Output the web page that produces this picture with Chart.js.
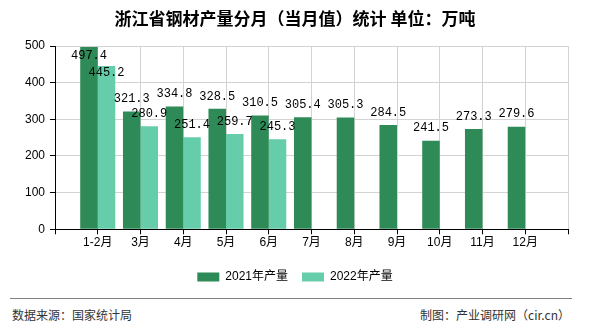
<!DOCTYPE html>
<html>
<head>
<meta charset="utf-8">
<script src="https://cdn.jsdelivr.net/npm/chart.js@4/dist/chart.umd.min.js"></script>
<style>
  body { margin: 0; background: #fff; font-family: "Noto Sans CJK SC", "Liberation Sans", sans-serif; }
  #page { position: relative; width: 590px; height: 330px; overflow: hidden; }
  #wrap { position: absolute; left: 0; top: 0; width: 590px; height: 296px; }
  #title { position: absolute; left: 0; top: 9px; width: 590px; text-align: center; font-size: 17px; line-height: 17px; font-weight: bold; color: #000; }
  #line { position: absolute; left: 10px; top: 298px; width: 562px; height: 1px; background: #808080; }
  .foot { position: absolute; top: 309px; font-size: 12px; line-height: 12px; color: #333; }
</style>
</head>
<body>
<div id="page">
  <div id="wrap"><canvas id="steelChart"></canvas></div>
  <div id="title">浙江省钢材产量分月（当月值）统计 单位：万吨</div>
  <div id="line"></div>
  <div class="foot" style="left:12px">数据来源：国家统计局</div>
  <div class="foot" style="right:20px">制图：产业调研网（cir.cn）</div>
</div>
<script>
// months shown on the x axis
const months = ["1-2月", "3月", "4月", "5月", "6月", "7月", "8月", "9月", "10月", "11月", "12月"];
// output, 10k tonnes
const output2021 = [497.4, 321.3, 334.8, 328.5, 310.5, 305.4, 305.3, 284.5, 241.5, 273.3, 279.6];
const output2022 = [445.2, 280.9, 251.4, 259.7, 245.3];
const yTicks = [0, 100, 200, 300, 400, 500];

// empty slot at each end of the axis
const labels = [""].concat(months, [""]);
const pad = (arr) => {
    const out = [null];
    for (let i = 0; i < months.length; i++) out.push(i < arr.length ? arr[i] : null);
    out.push(null);
    return out;
};

const valueLabels = {
    id: "valueLabels",
    afterDatasetsDraw(chart) {
        const ctx = chart.ctx;
        const area = chart.chartArea;
        const placed = [];
        ctx.save();
        ctx.font = "12px 'Liberation Mono', monospace";
        ctx.fillStyle = "#000";
        ctx.textAlign = "center";
        ctx.textBaseline = "middle";
        for (let i = 1; i <= months.length; i++) {
            chart.data.datasets.forEach((ds, d) => {
                const v = ds.data[i];
                if (v === null || v === undefined) return;
                const bar = chart.getDatasetMeta(d).data[i];
                const text = v.toFixed(1);
                const w = ctx.measureText(text).width;
                let y = bar.y - 12.5;
                if (y - 6 < area.top) y = bar.y + 8.5;
                placed.forEach(p => {
                    if (Math.abs(p.x - bar.x) < (p.w + w) / 2 && Math.abs(p.y - y) < 13) y = p.y + 17.5;
                });
                placed.push({x: bar.x, y: y, w: w});
                ctx.fillText(text, bar.x, y);
            });
        }
        ctx.restore();
    }
};

const steelChart = document.getElementById("steelChart").getContext("2d");

new Chart(steelChart, {
    type: "bar",
    data: {
        labels: labels,
        datasets: [
            {
                label: "2021年产量",
                data: pad(output2021),
                backgroundColor: "#2E8B57",
                categoryPercentage: 0.82,
                barPercentage: 1,
            },
            {
                label: "2022年产量",
                data: pad(output2022),
                backgroundColor: "#66CDAA",
                categoryPercentage: 0.82,
                barPercentage: 1,
            },
        ],
    },
    options: {
        responsive: true,
        maintainAspectRatio: false,
        animation: false,
        layout: {
            padding: {left: 0, right: 0, top: 46, bottom: 3},
        },
        scales: {
            x: {
                type: "category",
                offset: false,
                grid: {
                    offset: false,
                    color: "#d3d3d3",
                    tickColor: "#000",
                    tickLength: 5,
                },
                border: {color: "#000"},
                ticks: {
                    autoSkip: false,
                    maxRotation: 0,
                    padding: 1,
                    color: "#000",
                    font: {family: "'Liberation Sans', 'Noto Sans CJK SC'", size: 12},
                },
                afterFit: (s) => { s.height = 27.7; },
            },
            y: {
                min: 0,
                max: 500,
                afterBuildTicks: (s) => { s.ticks = yTicks.map(v => ({value: v})); },
                grid: {
                    color: "#d3d3d3",
                    tickColor: "#000",
                    tickLength: 5,
                },
                border: {color: "#000"},
                ticks: {
                    padding: 5,
                    color: "#000",
                    font: {family: "'Liberation Sans'", size: 12},
                },
                afterFit: (s) => { s.width = 55; },
            },
            y2: {
                position: "right",
                display: true,
                grid: {display: false},
                border: {display: false},
                ticks: {display: false},
                afterFit: (s) => { s.width = 22; },
            },
        },
        plugins: {
            legend: {
                position: "bottom",
                labels: {
                    boxWidth: 22,
                    boxHeight: 9,
                    padding: 14,
                    color: "#000",
                    font: {family: "'Liberation Sans', 'Noto Sans CJK SC'", size: 12},
                },
            },
            tooltip: {enabled: false},
        },
    },
    plugins: [valueLabels],
});
</script>
</body>
</html>
